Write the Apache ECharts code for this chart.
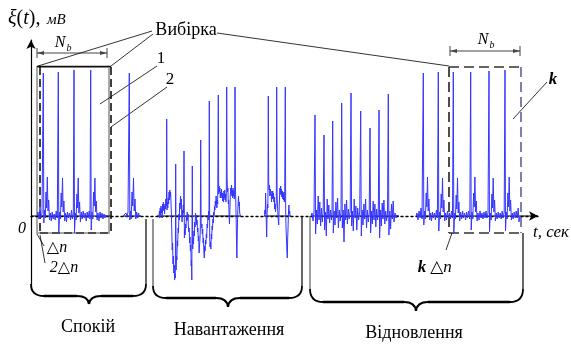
<!DOCTYPE html>
<html><head><meta charset="utf-8">
<script src="https://cdn.jsdelivr.net/npm/echarts@6/dist/echarts.min.js"></script>
<style>html,body{margin:0;padding:0;background:#fff}#c{width:571px;height:349px}</style>
</head><body><div id="c"></div>
<script>
// ---- signal data: [time sample, amplitude] ----
const seg1a = [[6,0],[7,4],[8,-3],[9,9],[10,-2],[11,3],[12.3,143],[12.8,-7],[13.5,6],[14.3,-2],[15,24],[15.6,8],[16.3,39],[17,5],[17.7,16],[18.5,-4],[19.4,3],[20.3,-5],[21.2,4],[22.2,-3],[23.2,2],[24.2,-4],[25.2,5],[26.3,-2],
[27.3,144],[27.8,-16],[28.6,4],[29.4,-3],[30.2,23],[30.8,9],[31.5,38],[32.2,4],[32.9,15],[33.7,-5],[34.6,3],[35.5,-6],[36.5,4],[37.5,-2],[38.5,3],[39.5,-4],[40.5,6],[41.5,-3],[42.3,2],
[43,146],[43.5,-17],[44.3,3],[45.1,-4],[45.9,22],[46.5,8],[47.2,38],[47.9,3],[48.6,14],[49.4,-6],[50.3,4],[51.2,-3],[52.2,5],[53.2,-2],[54.2,3],[55.2,-5],[56.2,4],[57.2,-2],[58.2,5],[59,-3],
[59.7,146],[60.2,-14],[61,4],[61.8,-3],[62.6,24],[63.2,10],[63.9,38],[64.6,4],[65.3,15],[66.1,-4],[67,3],[68,-5],[69,4],[70,-2],[71,3],[72,-3],[73,2],[74,-2],[75,1],[76,-1],[77,0]];
const seg1b = [[92,0],[93,2],[94,-2],[95,3],[96,-1],[97,4],[98.3,143],[98.8,-4],[99.5,5],[100.2,-3],[101,24],[101.7,10],[102.5,38],[103.2,5],[104,17],[104.8,-3],[105.7,4],[106.6,-2],[107.6,3],[108.6,-1],[109.5,0]];
const seg2a = [[128,0],[128.4,5],[128.8,-2],[129.2,8],[129.6,1],[130,10],[130.4,3],[130.8,7],[131.2,-2],[131.6,12],[132,5],[132.4,14],[132.8,6],[133.2,10],[133.6,2],[134,12],[134.4,7],[134.8,17],[135.2,10],[135.5,19],[135.7,97],[136,6],[136.4,14],[136.8,8],[137.2,18],[137.6,12],[138,24],[138.4,16],[138.8,26],[139.2,19],[139.6,24],[140,13],[140.4,2],[140.8,-16],[141.2,-34],[141.6,-27],[142,-48],[142.4,-40],[142.8,-57],[143.2,-49],[143.6,-64],[144,-58],[144.3,-62],[144.7,52],[145.1,-54],[145.5,-40],[145.9,-44],[146.3,-25],[146.7,-30],[147.1,-12],[147.5,-17],[147.9,2],[148.3,-4],[148.7,13],[149.1,7],[149.5,20],[149.9,11],[150.3,17],[150.7,2],[151.1,-6],[151.5,6],[151.9,-1],[152.3,11],[152.7,3],[153,65],[153.4,-22],[153.8,-13],[154.2,-19],[154.6,-8],[155,-12],[155.4,0],[155.8,-5],[156.2,4],[156.6,-4],[157,2],[157.4,-10],[157.8,-16],[158.2,-12],[158.6,-27],[159,-21],[159.4,-35],[159.8,-29],[160.2,-50],[160.5,-44],[160.8,-64],[161.3,50],[161.7,-33],[162.1,-22],[162.5,-28],[162.9,-15],[163.3,-20],[163.7,-6],[164.1,-11],[164.5,3],[164.9,-4],[165.3,1],[165.7,-9],[166.1,-4],[166.5,-16],[166.9,-12],[167.3,-25],[167.7,-20],[168.1,-37],[168.5,-30],[168.9,-24],[169.3,-14],[169.7,76],[170.1,-6],[170.5,-12],[170.9,-8],[171.3,-18],[171.7,-13],[172.1,-27],[172.5,-22],[172.9,-36],[173.3,-42],[173.7,-30],[174.1,-35],[174.5,-24],[174.9,-28],[175.3,-18],[175.7,-22],[176.1,-8],[176.5,-12],[176.9,0],[177.3,-4],[177.7,5],[178,-2],[178.3,115],[178.7,-22],[179.1,-31],[179.5,-26],[179.9,-33],[180.3,-18],[180.7,-23],[181.1,-10],[181.5,-14],[181.9,-3],[182.3,-7],[182.7,4],[183.1,1],[183.5,10],[183.9,6],[184.3,15],[184.7,10],[185.1,20],[185.5,14],[185.9,8],[186.3,16],[186.7,12],[187.3,121],[187.7,22],[188.1,30],[188.5,24],[188.9,28],[189.3,18],[189.7,24],[190.1,20],[190.5,27],[190.9,18],[191.3,23],[191.7,15],[192.1,22],[192.5,14],[192.9,25],[193.3,18],[193.7,26],[194.1,16],[194.5,22],[194.9,14],[195.3,21],[195.7,129],[196.1,38],[196.5,24],[196.9,28],[197.3,12],[197.7,16],[198.1,0],[198.5,-8],[198.9,6],[199.3,20],[199.7,28],[200.1,22],[200.5,31],[200.9,20],[201.3,26],[201.7,18],[202.1,28],[202.5,20],[202.9,25],[203.3,17],[203.7,22],[204,129],[204.4,30],[204.8,14],[205.2,-6],[205.6,-30],[205.9,-42],[206.3,-16],[206.7,2],[207.1,12],[207.5,20],[207.9,10],[208.3,14],[208.7,3],[209.1,5],[209.4,0]];
const seg2b = [[233.5,0],[233.9,6],[234.3,2],[234.6,23],[235,4],[235.4,-10],[235.7,-21],[236.1,2],[236.5,12],[236.9,8],[237.3,120],[237.7,34],[238.1,26],[238.5,31],[238.9,20],[239.3,27],[239.7,21],[240.1,25],[240.5,14],[240.9,22],[241.3,17],[241.7,25],[242.1,18],[242.5,23],[242.9,14],[243.3,19],[243.7,7],[244.1,12],[244.5,4],[244.9,10],[245.3,15],[245.7,129],[246.1,20],[246.5,10],[246.9,2],[247.3,-4],[247.7,-9],[248.1,6],[248.5,18],[248.9,28],[249.3,22],[249.7,30],[250.1,21],[250.5,27],[250.9,19],[251.3,25],[251.7,17],[252.1,23],[252.5,16],[252.9,24],[253.3,14],[253.7,19],[254.3,129],[254.7,4],[255.1,-14],[255.5,-24],[255.9,-35],[256.3,-42],[256.7,-22],[257.1,-10],[257.5,5],[257.9,11],[258.3,2],[258.7,5],[259,0]];
const seg3a = [[280,0],[281,3],[282,-5],[283,4],[284,101],[284.6,-18],[285.5,6],[286.3,-8],[287.2,20],[288,-4],[288.8,14],[289.6,-10],[290.5,8],[291.3,-6],[292.2,5],
[293,81],[293.6,-14],[294.5,4],[295.3,-20],[296.2,17],[297,-3],[297.8,11],[298.6,-7],[299.5,6],[300.5,-4],[301,3],
[301.7,95],[302.3,-17],[303.2,5],[304,-9],[304.9,14],[305.7,-2],[306.6,18],[307.4,-12],[308.3,6],[309.2,-5],[310,4],
[310.7,113],[311.3,-12],[312.2,6],[313,-26],[313.9,12],[314.7,-4],[315.6,16],[316.4,-8],[317.3,7],[318.2,-3],[319.2,5],
[320,123],[320.6,-10],[321.5,5],[322.3,-15],[323.2,17],[324,-2],[324.9,10],[325.8,-14],[326.7,8],[327.6,-4],[328.7,4],
[329.7,105],[330.3,-20],[331.2,6],[332,-9],[332.9,12],[333.7,-3],[334.6,17],[335.5,-12],[336.4,6],[337.3,-6],[338.2,3],
[339,88],[339.6,-17],[340.5,5],[341.3,-8],[342.2,15],[343,-4],[343.9,12],[344.8,-11],[345.7,7],[346.6,-4],[347.3,3],
[348,106],[348.6,-22],[349.5,6],[350.3,-10],[351.2,13],[352,-3],[352.9,16],[353.8,-8],[354.7,5],[355.6,-5],[356.5,3],
[357.3,122],[357.9,-19],[358.8,5],[359.6,-13],[360.5,12],[361.3,-3],[362.2,15],[363,-6],[364,3],[365,-2],[366,1],[367,0]];
const seg3b = [[385,0],[386,3],[387,-4],[388,5],[389,-2],[390,8],[391,-3],[392.3,143],[392.8,-9],[393.6,5],[394.4,-3],[395.2,23],[395.8,9],[396.5,39],[397.2,5],[397.9,17],[398.7,-4],[399.6,3],[400.5,-5],[401.4,4],[402.4,-2],[403.4,3],[404.4,-4],[405.4,6],[406.4,-2],
[407.3,144],[407.8,-15],[408.6,4],[409.4,-3],[410.2,22],[410.8,8],[411.5,38],[412.2,4],[412.9,16],[413.7,-5],[414.6,3],[415.5,-4],[416.5,5],[417.5,-2],[418.5,3],[419.5,-3],[420.5,5],[421.5,-2],
[422.3,144],[422.8,-17],[423.6,3],[424.4,-3],[425.2,21],[425.8,7],[426.5,38],[427.2,3],[427.9,14],[428.7,-5],[429.6,4],[430.6,-3],[431.6,5],[432.6,-2],[433.6,3],[434.6,-4],[435.6,4],[436.6,-2],[437.6,5],[438.8,-3],
[439.7,144],[440.2,-14],[441,4],[441.8,-3],[442.6,23],[443.2,9],[443.9,39],[444.6,4],[445.3,15],[446.1,-5],[447,3],[448,-4],[449,5],[450,-2],[451,3],[452,-3],[453,4],[454,-2],[455,5],[456,-2],[457,3],
[458,145],[458.5,-16],[459.3,3],[460.1,-4],[460.9,22],[461.5,8],[462.2,38],[462.9,4],[463.6,16],[464.4,-5],[465.3,3],[466.2,-3],[467.2,4],[468.2,-2],[469.2,3],[470.2,-3],[471.2,5],[472.2,-2],[473.2,4],
[474,146],[474.5,-15],[475.3,4],[476.1,-3],[476.9,23],[477.5,9],[478.2,39],[478.9,5],[479.6,16],[480.4,-4],[481.3,3],[482.2,-3],[483.2,4],[484.2,-2],[485.2,5],[486.2,-2],[487.2,8],[488,-6],[489,0]];
const signalSegments = [seg1a, seg1b, seg2a, seg2b, seg3a, seg3b];
const baselineRanges = [[0,79],[92,110],[126,210],[233,260],[280,368],[385,507]];
const phaseLabels = ['Спокій', 'Навантаження', 'Відновлення'];
const yLabel = ['ξ', '(', 't', '),', 'мВ'];
const xLabel = 't, сек';

// ---- build ----
const FONT = "'Liberation Serif', 'DejaVu Serif', serif";
const signalData = [];
signalSegments.forEach((s, i) => { if (i) signalData.push([s[0][0] - 1, '-']); s.forEach(p => signalData.push(p)); });
const baseData = [];
baselineRanges.forEach((r, i) => { if (i) baseData.push([r[0] - 1, '-']); baseData.push([r[0], 0], [r[1], 0]); });

const G = [];
function L(x1, y1, x2, y2, stroke, w, dash) { G.push({type:'line', silent:true, shape:{x1,y1,x2,y2}, style:{stroke:stroke||'#000', lineWidth:w||1, lineDash:dash||null}}); }
function B(x1, y1, cx, cy, x2, y2, w) { G.push({type:'bezierCurve', silent:true, shape:{x1,y1,x2,y2,cpx1:cx,cpy1:cy}, style:{stroke:'#000', fill:null, lineWidth:w}}); }
function T(text, x, y, font, align, opts) { G.push(Object.assign({type:'text', silent:true, style:{text, x, y, font, fill:'#000', align:align||'center', verticalAlign:'middle'}}, opts||{})); }
function P(points, fill) { G.push({type:'polygon', silent:true, shape:{points}, style:{fill:fill||'#444'}}); }
function brace(xl, xr, xm, yc, yb, yt) {
  B(xl, yc, xl, yb, xl + 13, yb, 1.8);
  L(xl + 13, yb, xm - 12, yb, '#000', 2.5);
  B(xm - 12, yb, xm - 1, yb, xm, yt, 2.2);
  B(xm, yt, xm + 1, yb, xm + 12, yb, 2.2);
  L(xm + 12, yb, xr - 13, yb, '#000', 2.5);
  B(xr - 13, yb, xr, yb, xr, yc, 1.8);
}

// windows
G.push({type:'rect', silent:true, shape:{x:37, y:67, width:72, height:166}, style:{stroke:'#a8a8a8', fill:null, lineWidth:2}});
L(40, 67, 40, 233, '#111', 1.6, [8, 4]);
L(111, 67, 111, 233, '#111', 1.6, [8, 4]);
L(37, 66.5, 111, 66.5, '#111', 1.4);
L(40, 233, 111, 233, '#333', 1.4, [8, 4]);
L(449, 67, 521, 67, '#333', 1.4, [10, 5]);
L(449, 67, 449, 233, '#222', 1.6, [10, 5]);
L(449, 233, 521, 233, '#333', 1.4, [10, 5]);
L(521, 67, 521, 233, '#7272a8', 1.8, [10, 5]);
// N_b dimension lines
L(37, 53, 107, 53, '#444', 1); L(37, 48, 37, 58, '#444', 1); L(107, 48, 107, 58, '#444', 1);
P([[37,53],[44,51],[44,55]]); P([[107,53],[100,51],[100,55]]);
L(450, 51, 520, 51, '#444', 1); L(450, 46, 450, 56, '#444', 1); L(520, 46, 520, 56, '#444', 1);
P([[450,51],[457,49],[457,53]]); P([[520,51],[513,49],[513,53]]);
T('N', 60, 43, 'italic 16px ' + FONT); T('b', 69, 48, 'italic 10px ' + FONT);
T('N', 483, 40, 'italic 16px ' + FONT); T('b', 492, 45, 'italic 10px ' + FONT);
// callouts
L(152, 31, 38, 66, '#000', 0.8); L(153, 34, 111, 66, '#000', 0.8); L(217, 33, 449, 66, '#000', 0.8);
T('Вибірка', 186, 30, '18px ' + FONT);
L(157, 66, 100, 104, '#000', 0.8); T('1', 161, 59, '17px ' + FONT);
L(167, 87, 111, 127, '#000', 0.8); T('2', 170, 80, '17px ' + FONT);
L(547, 82, 513, 119, '#000', 0.8); T('k', 553, 80, 'italic bold 17px ' + FONT);
L(37, 234, 44, 246, '#000', 0.8); T('△n', 57, 248, 'italic 16px ' + FONT);
L(40, 235, 45, 263, '#000', 0.8); T('2△n', 64, 268, 'italic 16px ' + FONT);
L(452, 233, 446, 250, '#000', 0.8);
T('k', 422, 268, 'italic bold 17px ' + FONT); T('△n', 441, 268, 'italic 17px ' + FONT);
T('0', 22, 229, 'italic 16px ' + FONT);
T(xLabel, 533, 233, 'italic 17px ' + FONT, 'left');
G.push({type:'text', silent:true, style:{x:8, y:19, verticalAlign:'middle',
  text:'{a|' + yLabel[0] + '}{b|' + yLabel[1] + '}{a|' + yLabel[2] + '}{b|' + yLabel[3] + '}',
  rich:{a:{font:'italic 20px ' + FONT, fill:'#000'}, b:{font:'20px ' + FONT, fill:'#000'}}}});
T(yLabel[4], 47, 20, 'italic 15px ' + FONT, 'left');
// phase brackets
L(146, 219, 146, 284, '#000', 1.2); L(153, 219, 153, 286, '#666', 1.4);
L(302, 216, 302, 286, '#000', 1.2); L(310, 216, 310, 289, '#888', 1.6);
L(523, 233, 523, 289, '#000', 1.2);
brace(31, 146, 89, 284, 296, 304);
brace(153, 302, 228, 286, 298, 307);
brace(310, 523, 416, 289, 302, 311);
T(phaseLabels[0], 88, 327, '18px ' + FONT);
T(phaseLabels[1], 229, 330, '18px ' + FONT);
T(phaseLabels[2], 414, 333, '18px ' + FONT);

const chart = echarts.init(document.getElementById('c'), null, {renderer:'canvas'});
chart.setOption({
  animation:false,
  backgroundColor:'#fff',
  grid:{left:31, right:33, top:40, bottom:59},
  xAxis:{type:'value', min:0, max:507,
    axisLine:{onZero:true, symbol:['none','arrow'], symbolSize:[7,9], lineStyle:{color:'#000', width:1.4, type:[2,3]}},
    axisTick:{show:false}, axisLabel:{show:false}, splitLine:{show:false}},
  yAxis:{type:'value', min:-74, max:176,
    axisLine:{show:true, onZero:true, symbol:['none','arrow'], symbolSize:[7,9], lineStyle:{color:'#000', width:1.2}},
    axisTick:{show:false}, axisLabel:{show:false}, splitLine:{show:false}},
  series:[
    {type:'line', data:baseData, showSymbol:false, connectNulls:false, lineStyle:{color:'#000', width:1.2}, silent:true, z:1},
    {type:'line', data:signalData, showSymbol:false, connectNulls:false, lineStyle:{color:'#3535ff', width:1}, silent:true, z:2}
  ],
  graphic:G
});
</script>
</body></html>
